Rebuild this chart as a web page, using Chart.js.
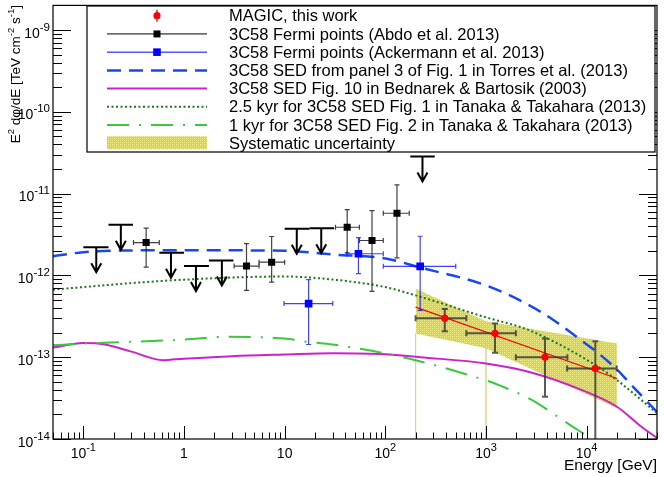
<!DOCTYPE html>
<html>
<head>
<meta charset="utf-8">
<style>
html, body { margin: 0; padding: 0; background: #fff; }
canvas { display: block; }
</style>
<script src="https://cdn.jsdelivr.net/npm/chart.js"></script>
</head>
<body>
<canvas id="sed" width="664" height="477"></canvas>
<script>
// ---- data (energy in GeV, E^2 dphi/dE in TeV cm^-2 s^-1) ----

// MAGIC, this work
const magicE   = [390, 1230, 3860, 12200];
const magicF   = [3.0e-13, 1.96e-13, 1.0e-13, 7.3e-14];
const magicElo = [200, 638, 1980, 6400];
const magicEhi = [638, 1980, 6440, 19900];
const magicFlo = [2.07e-13, 1.13e-13, 3.28e-14, 1e-15];
const magicFhi = [3.88e-13, 2.58e-13, 1.69e-13, 1.57e-13];

// MAGIC power-law fit
const fitE = [200, 20000];
const fitF = [4.1e-13, 5.5e-14];

// systematic uncertainty band
const sysE  = [200, 1000, 20000];
const sysHi = [6.94e-13, 2.75e-13, 1.47e-13];
const sysLo = [1.95e-13, 1.29e-13, 2.37e-14];

// Fermi points (Abdo et al. 2013)
const abdoE   = [0.421, 4.18, 7.43, 41.8, 73.8, 130.6];
const abdoF   = [2.52e-12, 1.30e-12, 1.45e-12, 3.88e-12, 2.67e-12, 5.75e-12];
const abdoElo = [0.315, 3.15, 5.57, 32, 55.3, 95.5];
const abdoEhi = [0.569, 5.57, 10, 55.3, 95.5, 173];
const abdoFlo = [1.26e-12, 6.56e-13, 8.28e-13, 1.89e-12, 6.38e-13, 1.64e-12];
const abdoFhi = [3.78e-12, 2.44e-12, 2.99e-12, 6.38e-12, 6.2e-12, 1.28e-11];

// Fermi upper limits (Abdo et al. 2013)
const ulE   = [0.1345, 0.236, 0.743, 1.315, 2.38, 13.2, 23.1, 234];
const ulElo = [0.1, 0.178, 0.569, 1.0, 1.77, 10, 17.7, 177];
const ulEhi = [0.178, 0.312, 1.0, 1.77, 3.1, 17.7, 31, 310];
const ulF   = [2.21e-12, 4.15e-12, 1.89e-12, 1.30e-12, 1.52e-12, 3.72e-12, 3.78e-12, 2.85e-11];

// Fermi points (Ackermann et al. 2013)
const ackE   = [17.3, 54.1, 222];
const ackF   = [4.52e-13, 1.84e-12, 1.29e-12];
const ackElo = [9.85, 41.4, 95.5];
const ackEhi = [30.1, 95.5, 501];
const ackFlo = [1.43e-13, 1.05e-12, 3.74e-13];
const ackFhi = [8.87e-13, 2.89e-12, 3.01e-12];

// model curves
const torresE = [0.05, 0.1, 0.3, 1, 10, 30, 100, 222, 1000, 2700, 4710, 9000, 13150, 20400, 27900, 50000];
const torresF = [1.72e-12, 1.92e-12, 2.02e-12, 2.03e-12, 2.0e-12, 1.8e-12, 1.61e-12, 1.25e-12, 7.55e-13, 4.31e-13, 2.83e-13, 1.58e-13, 1.11e-13, 6.9e-14, 4.56e-14, 2.14e-14];

const bednE = [0.05, 0.1, 0.16, 0.3, 0.62, 1, 3, 10, 30, 100, 222, 1000, 2700, 9000, 20000, 35000, 50000];
const bednF = [1.31e-13, 1.49e-13, 1.44e-13, 1.17e-13, 9.2e-14, 9.6e-14, 1.03e-13, 1.08e-13, 1.12e-13, 1.09e-13, 1.0e-13, 8.4e-14, 6.6e-14, 3.96e-14, 2.48e-14, 1.41e-14, 1.03e-14];

const tan25E = [0.05, 0.1, 0.3, 1, 10, 30, 100, 200, 1000, 2700, 12300, 20000, 50000];
const tan25F = [6.7e-13, 7.2e-13, 8.05e-13, 8.87e-13, 9.7e-13, 8.9e-13, 7.2e-13, 5.7e-13, 3.07e-13, 2.13e-13, 7.98e-14, 5.25e-14, 2.07e-14];

const tan1E = [0.05, 0.1, 1, 2.65, 10, 17, 30, 100, 200, 1000, 1346, 2850, 4370, 6880, 10900, 20000];
const tan1F = [1.40e-13, 1.47e-13, 1.64e-13, 1.78e-13, 1.69e-13, 1.54e-13, 1.43e-13, 1.11e-13, 9.2e-14, 5.2e-14, 4.56e-14, 3.0e-14, 2.15e-14, 1.48e-14, 1.02e-14, 5.9e-15];

// axis tick labels
const xTickVals = [0.1, 1, 10, 100, 1000, 10000];
const xTickBase = ['10', '1', '10', '10', '10', '10'];
const xTickExp  = ['-1', '', '', '2', '3', '4'];
const yTickVals = [1e-14, 1e-13, 1e-12, 1e-11, 1e-10, 1e-9];
const yTickExp  = ['-14', '-13', '-12', '-11', '-10', '-9'];

const legendLabels = [
  'MAGIC, this work',
  '3C58 Fermi points (Abdo et al. 2013)',
  '3C58 Fermi points (Ackermann et al. 2013)',
  '3C58 SED from panel 3 of Fig. 1 in Torres et al. (2013)',
  '3C58 SED Fig. 10 in Bednarek & Bartosik (2003)',
  '2.5 kyr for 3C58 SED Fig. 1 in Tanaka & Takahara (2013)',
  '1 kyr for 3C58 SED Fig. 2 in Tanaka & Takahara (2013)',
  'Systematic uncertainty'
];

// ---- styles ----
const FONT = '"Liberation Sans", Arial, Helvetica, sans-serif';
const BLUE_DASH = '#1848f0';
const MAGENTA = '#cc22cc';
const DK_GREEN = '#1a7a1a';
const LT_GREEN = '#3cc83c';

const canvas = document.getElementById('sed');
const mainCtx = canvas.getContext('2d');

function makeBand() {
  const c = document.createElement('canvas');
  c.width = 4; c.height = 4;
  const g = c.getContext('2d');
  g.fillStyle = '#dad63c';
  g.fillRect(0, 0, 4, 4);
  g.fillStyle = '#f2f09a';
  g.fillRect(0, 0, 1, 1);
  g.fillRect(2, 2, 1, 1);
  g.fillStyle = '#e6e26a';
  g.fillRect(2, 0, 1, 1);
  g.fillRect(0, 2, 1, 1);
  return mainCtx.createPattern(c, 'repeat');
}
const bandFill = makeBand();

function pts(xs, ys) {
  return xs.map((x, i) => ({ x: x, y: ys[i] }));
}

const errSets = {
  magic: { e: magicE, f: magicF, elo: magicElo, ehi: magicEhi, flo: magicFlo, fhi: magicFhi,
           color: 'rgba(50,50,50,0.8)', width: 2, cap: 3 },
  abdo:  { e: abdoE, f: abdoF, elo: abdoElo, ehi: abdoEhi, flo: abdoFlo, fhi: abdoFhi,
           color: 'rgba(30,30,30,0.85)', width: 1.2, cap: 2.5 },
  ack:   { e: ackE, f: ackF, elo: ackElo, ehi: ackEhi, flo: ackFlo, fhi: ackFhi,
           color: 'rgba(0,0,255,0.75)', width: 1.2, cap: 2.5 }
};

function curve(xs, ys, color, width, dash, order) {
  return {
    data: pts(xs, ys), borderColor: color, borderWidth: width, borderDash: dash,
    pointRadius: 0, fill: false, cubicInterpolationMode: 'monotone', order: order
  };
}

// ---- drawing helpers ----
function richWidth(ctx, parts, size, supSize) {
  let w = 0;
  parts.forEach(p => {
    ctx.font = (p.sup ? supSize : size) + 'px ' + FONT;
    w += ctx.measureText(p.t).width;
  });
  return w;
}

function drawRich(ctx, parts, x, y, size, supSize, rise) {
  let cx = x;
  parts.forEach(p => {
    ctx.font = (p.sup ? supSize : size) + 'px ' + FONT;
    ctx.fillText(p.t, cx, p.sup ? y - rise : y);
    cx += ctx.measureText(p.t).width;
  });
}

function drawErrors(ctx, chart, s) {
  const xs = chart.scales.x, ys = chart.scales.y, a = chart.chartArea;
  ctx.save();
  ctx.beginPath();
  ctx.rect(a.left, a.top, a.right - a.left, a.bottom - a.top);
  ctx.clip();
  ctx.strokeStyle = s.color;
  ctx.lineWidth = s.width;
  for (let i = 0; i < s.e.length; i++) {
    const px = xs.getPixelForValue(s.e[i]), py = ys.getPixelForValue(s.f[i]);
    const x0 = xs.getPixelForValue(s.elo[i]), x1 = xs.getPixelForValue(s.ehi[i]);
    const y0 = ys.getPixelForValue(s.flo[i]), y1 = ys.getPixelForValue(s.fhi[i]);
    ctx.beginPath();
    ctx.moveTo(x0, py); ctx.lineTo(x1, py);
    ctx.moveTo(px, y0); ctx.lineTo(px, y1);
    ctx.moveTo(x0, py - s.cap); ctx.lineTo(x0, py + s.cap);
    ctx.moveTo(x1, py - s.cap); ctx.lineTo(x1, py + s.cap);
    ctx.moveTo(px - s.cap, y0); ctx.lineTo(px + s.cap, y0);
    ctx.moveTo(px - s.cap, y1); ctx.lineTo(px + s.cap, y1);
    ctx.stroke();
  }
  ctx.restore();
}

function drawUpperLimits(ctx, chart) {
  const xs = chart.scales.x, ys = chart.scales.y;
  ctx.save();
  ctx.strokeStyle = '#000';
  ctx.lineWidth = 2;
  for (let i = 0; i < ulE.length; i++) {
    const cx = xs.getPixelForValue(ulE[i]);
    const by = ys.getPixelForValue(ulF[i]);
    const x0 = xs.getPixelForValue(ulElo[i]), x1 = xs.getPixelForValue(ulEhi[i]);
    ctx.beginPath();
    ctx.moveTo(x0, by); ctx.lineTo(x1, by);
    ctx.moveTo(cx, by); ctx.lineTo(cx, by + 25);
    ctx.moveTo(cx - 5, by + 16); ctx.lineTo(cx, by + 25); ctx.lineTo(cx + 5, by + 16);
    ctx.stroke();
  }
  ctx.restore();
}

function drawAxes(ctx, chart) {
  const xs = chart.scales.x, ys = chart.scales.y, a = chart.chartArea;
  ctx.save();
  ctx.strokeStyle = '#000';
  ctx.lineWidth = 1;
  ctx.beginPath();
  for (let d = -2; d <= 5; d++) {
    for (let m = 1; m <= 9; m++) {
      const v = m * Math.pow(10, d);
      if (v < xs.min * 0.999 || v > xs.max * 1.001) continue;
      const px = Math.round(xs.getPixelForValue(v)) + 0.5;
      const len = m === 1 ? 13 : 6.5;
      ctx.moveTo(px, a.bottom); ctx.lineTo(px, a.bottom - len);
    }
  }
  for (let d = -15; d <= -8; d++) {
    for (let m = 1; m <= 9; m++) {
      const v = m * Math.pow(10, d);
      if (v < ys.min * 0.999 || v > ys.max * 1.001) continue;
      const py = Math.round(ys.getPixelForValue(v)) + 0.5;
      const len = m === 1 ? 18 : 9;
      ctx.moveTo(a.left, py); ctx.lineTo(a.left + len, py);
      ctx.moveTo(a.right, py); ctx.lineTo(a.right - len, py);
    }
  }
  ctx.stroke();
  ctx.lineWidth = 1.2;
  ctx.strokeRect(a.left, a.top, a.right - a.left, a.bottom - a.top);

  // tick labels
  ctx.fillStyle = '#000';
  ctx.textBaseline = 'alphabetic';
  ctx.textAlign = 'left';
  xTickVals.forEach((v, i) => {
    const parts = [{ t: xTickBase[i] }];
    if (xTickExp[i]) parts.push({ t: xTickExp[i], sup: true });
    const w = richWidth(ctx, parts, 14, 11);
    const px = xs.getPixelForValue(v);
    drawRich(ctx, parts, px - w / 2, a.bottom + 19, 14, 11, 7);
  });
  yTickVals.forEach((v, i) => {
    const parts = [{ t: '10' }, { t: yTickExp[i], sup: true }];
    const w = richWidth(ctx, parts, 14, 11.5);
    const py = ys.getPixelForValue(v);
    drawRich(ctx, parts, a.left - 3 - w, py + 7.5, 14, 11.5, 7);
  });

  // axis titles
  ctx.font = '15.5px ' + FONT;
  ctx.textAlign = 'right';
  ctx.fillText('Energy [GeV]', a.right, 470);
  ctx.textAlign = 'left';
  const yParts = [{ t: 'E' }, { t: '2', sup: true }, { t: ' d\u03c6/dE [TeV cm' }, { t: '-2', sup: true },
                  { t: ' s' }, { t: '-1', sup: true }, { t: ']' }];
  const yw = richWidth(ctx, yParts, 13.5, 9.5);
  ctx.save();
  ctx.translate(20, 5);
  ctx.rotate(-Math.PI / 2);
  drawRich(ctx, yParts, -yw, 0, 13.5, 9.5, 6);
  ctx.restore();
  ctx.restore();
}

function drawLegend(ctx) {
  const L = 87, T = 6, R = 655, B = 152;
  const x0 = 107, x1 = 207, xm = 157, tx = 229;
  const row = i => 15.7 + i * 18.23;
  ctx.save();
  ctx.fillStyle = '#fff';
  ctx.fillRect(L, T, R - L, B - T);
  ctx.strokeStyle = '#000';
  ctx.lineWidth = 1.2;
  ctx.strokeRect(L, T, R - L, B - T);

  function line(i, color, width, dash) {
    ctx.save();
    ctx.strokeStyle = color; ctx.lineWidth = width; ctx.setLineDash(dash);
    ctx.beginPath(); ctx.moveTo(x0, row(i)); ctx.lineTo(x1, row(i)); ctx.stroke();
    ctx.restore();
  }
  // MAGIC marker
  ctx.strokeStyle = 'rgba(50,50,50,0.8)'; ctx.lineWidth = 1.5;
  ctx.beginPath(); ctx.moveTo(xm, row(0) - 6); ctx.lineTo(xm, row(0) + 6); ctx.stroke();
  ctx.fillStyle = '#ff0000';
  ctx.beginPath(); ctx.arc(xm, row(0), 3.6, 0, Math.PI * 2); ctx.fill();
  // Fermi
  line(1, '#000', 1, []);
  ctx.fillStyle = '#000'; ctx.fillRect(xm - 3.5, row(1) - 3.5, 7, 7);
  line(2, '#0000ff', 1, []);
  ctx.fillStyle = '#0000ff'; ctx.fillRect(xm - 3.8, row(2) - 3.8, 7.6, 7.6);
  line(3, BLUE_DASH, 2.5, [14, 8]);
  line(4, MAGENTA, 2, []);
  line(5, DK_GREEN, 2, [2, 2.5]);
  line(6, LT_GREEN, 2, [22, 10, 2, 10]);
  ctx.fillStyle = bandFill;
  ctx.fillRect(x0, row(7) - 7, x1 - x0, 13);

  ctx.fillStyle = '#000';
  ctx.font = '16.5px ' + FONT;
  ctx.textAlign = 'left';
  ctx.textBaseline = 'alphabetic';
  legendLabels.forEach((t, i) => ctx.fillText(t, tx, row(i) + 5.6));
  ctx.restore();
}

const sedPlugin = {
  id: 'sedPlugin',
  beforeDatasetDraw(chart, args) {
    const ds = chart.data.datasets[args.index];
    if (ds.errKey) drawErrors(chart.ctx, chart, errSets[ds.errKey]);
  },
  afterDatasetsDraw(chart) {
    drawUpperLimits(chart.ctx, chart);
    drawAxes(chart.ctx, chart);
  },
  afterDraw(chart) {
    drawLegend(chart.ctx);
  }
};

new Chart(canvas, {
  type: 'line',
  data: {
    datasets: [
      // systematic band (upper edge, then lower edge filled to it)
      { data: pts(sysE, sysHi), borderWidth: 0, pointRadius: 0, fill: false, order: 20 },
      { data: pts(sysE, sysLo), borderWidth: 0, pointRadius: 0, fill: '-1', backgroundColor: bandFill, order: 20 },
      // faint edges of the band down to the axis
      { data: [{ x: sysE[0], y: sysLo[0] }, { x: sysE[0], y: 1e-14 }], borderColor: 'rgba(215,210,110,0.6)',
        borderWidth: 1, pointRadius: 0, fill: false, order: 19 },
      { data: [{ x: sysE[1], y: sysLo[1] }, { x: sysE[1], y: 1e-14 }], borderColor: 'rgba(215,210,110,0.6)',
        borderWidth: 1, pointRadius: 0, fill: false, order: 19 },
      curve(bednE, bednF, MAGENTA, 2, [], 10),
      curve(tan1E, tan1F, LT_GREEN, 2, [22, 10, 2, 10], 9),
      curve(tan25E, tan25F, DK_GREEN, 2, [2, 2.5], 8),
      curve(torresE, torresF, BLUE_DASH, 2.5, [14, 8], 7),
      { data: pts(fitE, fitF), borderColor: '#ff0000', borderWidth: 1.2, pointRadius: 0, fill: false, order: 5 },
      { data: pts(abdoE, abdoF), showLine: false, pointStyle: 'rect', pointRadius: 5, pointBorderWidth: 0,
        pointBackgroundColor: '#000', errKey: 'abdo', order: 3 },
      { data: pts(ackE, ackF), showLine: false, pointStyle: 'rect', pointRadius: 5.4, pointBorderWidth: 0,
        pointBackgroundColor: '#0000ff', errKey: 'ack', order: 2 },
      { data: pts(magicE, magicF), showLine: false, pointStyle: 'circle', pointRadius: 3.6, pointBorderWidth: 0,
        pointBackgroundColor: '#ff0000', errKey: 'magic', order: 1 }
    ]
  },
  options: {
    responsive: false,
    animation: false,
    layout: { padding: { left: 53, right: 7, top: 5, bottom: 38 } },
    plugins: { legend: { display: false }, tooltip: { enabled: false } },
    scales: {
      x: { type: 'logarithmic', min: 0.05, max: 50000, display: false },
      y: { type: 'logarithmic', min: 1e-14, max: 2e-9, display: false }
    }
  },
  plugins: [sedPlugin]
});
</script>
</body>
</html>
